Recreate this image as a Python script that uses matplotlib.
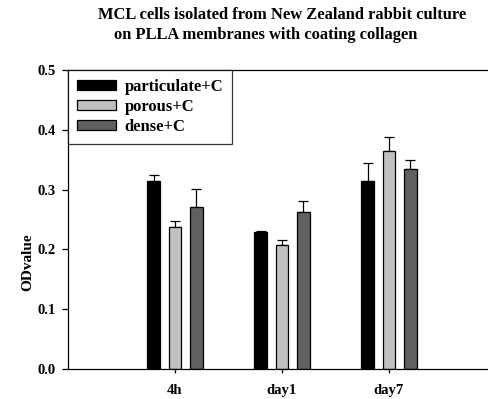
import numpy as np
import matplotlib.pyplot as plt

plt.rcParams['font.family'] = ['Liberation Serif', 'DejaVu Serif']
plt.rcParams['font.weight'] = 'bold'

groups = ['4h', 'day1', 'day7']
series = ['particulate+C', 'porous+C', 'dense+C']
particulate = [0.314, 0.229, 0.314]
porous = [0.237, 0.208, 0.365]
dense = [0.271, 0.262, 0.334]
particulate_err = [0.010, 0.001, 0.031]
porous_err = [0.011, 0.007, 0.023]
dense_err = [0.030, 0.019, 0.015]

colors = ['#000000', '#c0c0c0', '#606060']

fig = plt.figure(figsize=(4.89, 3.99), dpi=100)
ax = fig.add_axes([68 / 489, 1 - 369 / 399, 1 - 68 / 489, (369 - 70) / 399])

x = np.arange(1, len(groups) + 1)
offsets = [-0.2, 0.0, 0.2]
width = 0.12
values = [particulate, porous, dense]
errors = [particulate_err, porous_err, dense_err]
for vals, errs, off, col, name in zip(values, errors, offsets, colors, series):
    ax.bar(x + off, vals, width, color=col, edgecolor='black', linewidth=0.9,
           label=name, zorder=2)
    ax.errorbar(x + off, vals, yerr=[np.zeros(len(errs)), errs], fmt='none',
                ecolor='black', elinewidth=0.9, capsize=3.5, capthick=0.9, zorder=1)

ax.set_xlim(0, 3.935)
ax.set_ylim(0, 0.5)
ax.set_xticks(x)
ax.set_xticklabels(groups, fontsize=10.5, fontweight='bold')
ax.set_yticks([0.0, 0.1, 0.2, 0.3, 0.4, 0.5])
ax.set_yticklabels(['0.0', '0.1', '0.2', '0.3', '0.4', '0.5'], fontsize=10.5, fontweight='bold')
ax.tick_params(axis='y', direction='out', length=4, width=0.9, pad=5)
ax.tick_params(axis='x', direction='out', length=3, width=0.9, pad=8)
ax.spines['right'].set_visible(False)
for s in ['left', 'top', 'bottom']:
    ax.spines[s].set_linewidth(0.9)

fig.text(28 / 489, 1 - 262 / 399, 'ODvalue', rotation=90, ha='center', va='center',
         fontsize=11, fontweight='bold')

fig.text(282 / 489, 1 - 15 / 399, 'MCL cells isolated from New Zealand rabbit culture',
         ha='center', va='center', fontsize=11.9, fontweight='bold')
fig.text(266 / 489, 1 - 35 / 399, 'on PLLA membranes with coating collagen',
         ha='center', va='center', fontsize=11.9, fontweight='bold')

leg = ax.legend(loc='upper left', bbox_to_anchor=(0, 1), fontsize=12, frameon=True,
                fancybox=False, borderaxespad=0, handlelength=2.3, handleheight=0.55,
                handletextpad=0.55, labelspacing=0.23, borderpad=0.55)
leg.get_frame().set_edgecolor('black')
leg.get_frame().set_linewidth(0.9)
for t in leg.get_texts():
    t.set_fontweight('bold')

fig.savefig('out.png', dpi=100)
